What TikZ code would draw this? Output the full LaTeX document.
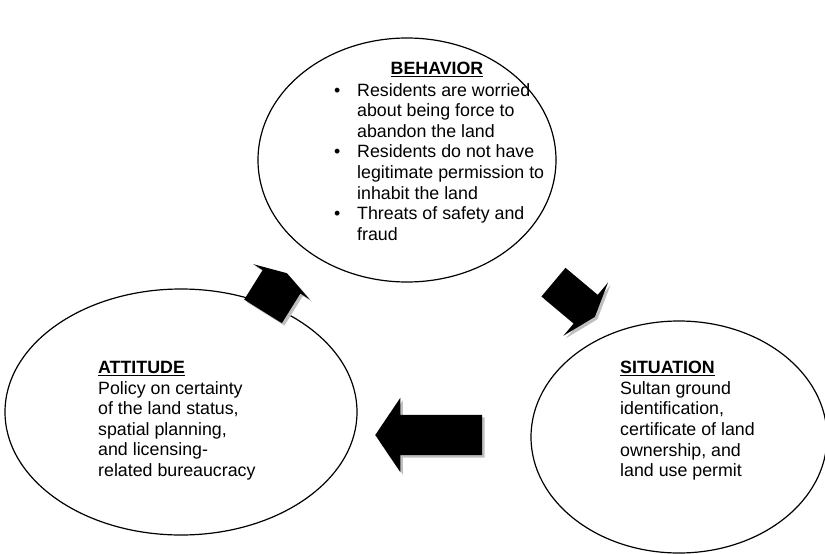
\documentclass[tikz,border=0pt]{standalone}
\usepackage{fontspec}
\setmainfont{Liberation Sans}
\usetikzlibrary{positioning,shapes.geometric,shapes.arrows,shadows}

\begin{document}
\begin{tikzpicture}[x=1pt,y=-1pt,
  bubble/.style={draw,ellipse,line width=1.2pt,inner sep=0pt},
  blockarrow/.style={single arrow,fill=black,anchor=tip,inner xsep=0pt,minimum width=0pt,
    drop shadow={shadow xshift=2.5pt,shadow yshift=-2.5pt,fill=black!25,opacity=1}},
  txt/.style={inner sep=0pt,align=left,font=\fontsize{17.8}{20.6}\selectfont}]
  \useasboundingbox (0,0) rectangle (825,554);
  % the three ellipses
  \node[bubble,minimum width=298pt,minimum height=244pt] (behavior) at (407,160) {};
  \node[bubble,minimum width=352pt,minimum height=246pt] (attitude) at (181,412) {};
  \node[bubble,minimum width=296pt,minimum height=232pt] (situation) at (679,437) {};
  % texts
  \node[txt,anchor=north] (behtitle) at (437,62) {\underline{\textbf{BEHAVIOR}}};
  \node[txt,anchor=north west] (behlist) at (334,83) {%
    \makebox[23pt][l]{\textbullet}Residents are worried\\
    \hspace*{23pt}about being force to\\
    \hspace*{23pt}abandon the land\\
    \makebox[23pt][l]{\textbullet}Residents do not have\\
    \hspace*{23pt}legitimate permission to\\
    \hspace*{23pt}inhabit the land\\
    \makebox[23pt][l]{\textbullet}Threats of safety and\\
    \hspace*{23pt}fraud};
  \node[txt,anchor=north west] (atttext) at (98,361) {\underline{\textbf{ATTITUDE}}\\Policy on certainty\\of the land status,\\spatial planning,\\and licensing-\\related bureaucracy};
  \node[txt,anchor=north west] (sittext) at (620,361) {\underline{\textbf{SITUATION}}\\Sultan ground\\identification,\\certificate of land\\ownership, and\\land use permit};
  % block arrows between the ellipses
  \node[blockarrow,rotate=58,minimum height=45pt,inner ysep=22pt,single arrow head extend=11pt,single arrow tip angle=146] (toBehavior) at (287,273) {};
  \node[blockarrow,rotate=-40,minimum height=54pt,inner ysep=18.5pt,single arrow head extend=16pt,single arrow tip angle=142] (toSituation) at (595,317) {};
  \node[blockarrow,rotate=180,minimum height=107pt,inner ysep=20pt,single arrow head extend=17pt,single arrow tip angle=112] (toAttitude) at (375,435) {};
\end{tikzpicture}
\end{document}
